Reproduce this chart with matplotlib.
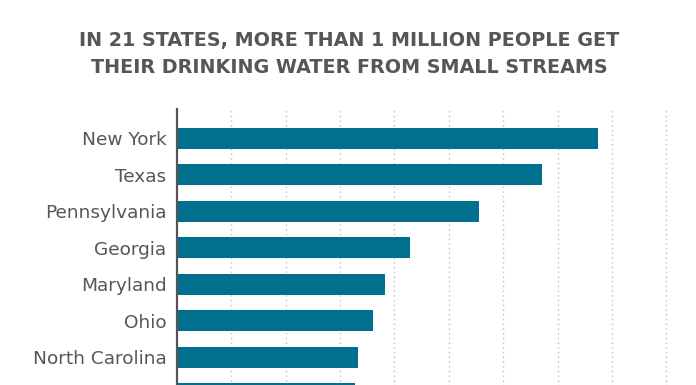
import matplotlib
matplotlib.use("Agg")
import matplotlib.pyplot as plt

states = ["New York", "Texas", "Pennsylvania", "Georgia", "Maryland", "Ohio",
          "North Carolina", "Virginia"]
values = [7.75, 6.72, 5.55, 4.28, 3.83, 3.61, 3.34, 3.28]
grid_ticks = [1, 2, 3, 4, 5, 6, 7, 8, 9]

title = "IN 21 STATES, MORE THAN 1 MILLION PEOPLE GET\nTHEIR DRINKING WATER FROM SMALL STREAMS"

W, H = 696, 385
fig = plt.figure(figsize=(W / 100, H / 100), dpi=100)
fig.patch.set_facecolor("white")

px_unit_x = 54.4
px_unit_y = 36.5
left_px = 176.7
top_px = 109.0
xmax = 9.5
ylim = (7.6, -0.8)
ax_w = xmax * px_unit_x
ax_h = (ylim[0] - ylim[1]) * px_unit_y
ax = fig.add_axes([left_px / W, (H - top_px - ax_h) / H, ax_w / W, ax_h / H])

text_color = "#55565a"
bar_color = "#00708e"

ypos = list(range(len(states)))
ax.barh(ypos, values, height=0.575, color=bar_color, zorder=3)
ax.set_xlim(0, xmax)
ax.set_ylim(*ylim)

for t in grid_ticks:
    ax.axvline(t, color="#c8c8c8", lw=1.0, ls=(0, (1.2, 2.2)), zorder=1)

for s in ["top", "right", "bottom"]:
    ax.spines[s].set_visible(False)
ax.spines["left"].set_color("#555555")
ax.spines["left"].set_linewidth(1.6)
ax.spines["left"].set_zorder(4)

ax.set_xticks([])
ax.set_yticks(ypos)
ax.set_yticklabels(states, fontsize=13.3, color=text_color, family="DejaVu Sans")
ax.tick_params(axis="y", length=0, pad=7.5)
# the last row lies below the picture's bottom edge; its label is not shown
ax.get_yticklabels()[-1].set_visible(False)

fig.text(0.5015, 1 - 54.0 / H, title, ha="center", va="center", fontsize=13.8,
         fontweight="bold", family="DejaVu Sans", color=text_color, linespacing=1.5)

fig.savefig("out.png", dpi=100)
